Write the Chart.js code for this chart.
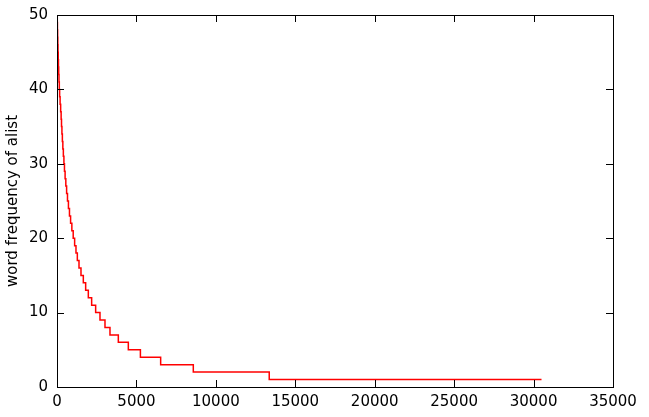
<!DOCTYPE html>
<html>
<head>
<meta charset="utf-8">
<script src="https://cdn.jsdelivr.net/npm/chart.js@4"></script>
<style>
  html, body { margin: 0; padding: 0; background: #fff; }
  #wrap { width: 649px; height: 417px; }
</style>
</head>
<body>
<div id="wrap"><canvas id="freqCanvas" width="649" height="417"></canvas></div>
<script>
/* word frequency levels (descending) and the last rank that has each level */
const freqLevels = [50, 49, 48, 47, 46, 45, 44, 43, 42, 41, 40, 39, 38, 37, 36, 35, 34, 33, 32, 31,
  30, 29, 28, 27, 26, 25, 24, 23, 22, 21, 20, 19, 18, 17, 16, 15, 14, 13, 12, 11,
  10, 9, 8, 7, 6, 5, 4, 3, 2, 1];
const lastRank = [18, 28, 40, 52, 64, 78, 92, 108, 125, 145, 165, 195, 230, 260, 284, 310, 338, 368, 400, 435,
  470, 510, 555, 605, 660, 720, 785, 855, 935, 1020, 1110, 1195, 1280, 1385, 1510, 1657, 1804, 1972, 2181, 2433,
  2706, 3021, 3335, 3860, 4490, 5250, 6525, 8580, 13360, 30500];

const xTicks = [0, 5000, 10000, 15000, 20000, 25000, 30000, 35000];
const yTicks = [0, 10, 20, 30, 40, 50];

const freqCanvas = document.getElementById("freqCanvas");

// points for the step line: each level runs up to its last rank
let points = [{ x: 0, y: freqLevels[0] }];
for (let i = 0; i < freqLevels.length; i++) {
  points.push({ x: lastRank[i], y: freqLevels[i] });
}

// matplotlib-style frame with inward ticks on all four sides
const frameTicks = {
  id: 'frameTicks',
  afterDraw(chart) {
    const ctx = chart.ctx;
    const a = chart.chartArea;
    const xs = chart.scales.x;
    const ys = chart.scales.y;
    const len = 7;
    ctx.save();
    ctx.strokeStyle = '#000';
    ctx.lineWidth = 1;
    ctx.beginPath();
    xTicks.forEach(v => {
      const px = Math.round(xs.getPixelForValue(v)) + 0.5;
      ctx.moveTo(px, a.bottom); ctx.lineTo(px, a.bottom - len);
      ctx.moveTo(px, a.top); ctx.lineTo(px, a.top + len);
    });
    yTicks.forEach(v => {
      const py = Math.round(ys.getPixelForValue(v)) + 0.5;
      ctx.moveTo(a.left, py); ctx.lineTo(a.left + len, py);
      ctx.moveTo(a.right, py); ctx.lineTo(a.right - len, py);
    });
    ctx.stroke();
    ctx.strokeRect(Math.round(a.left) + 0.5, Math.round(a.top) + 0.5,
      Math.round(a.right - a.left), Math.round(a.bottom - a.top));
    ctx.restore();
  }
};

let freqChart = new Chart(freqCanvas, {
  type: 'line',
  data: {
    datasets: [{
      data: points,
      borderColor: '#ff0000',
      borderWidth: 1.5,
      pointRadius: 0,
      fill: false,
      stepped: 'after'
    }]
  },
  options: {
    responsive: false,
    animation: false,
    layout: { padding: { top: 15, right: 36, left: 0, bottom: 0 } },
    scales: {
      x: {
        type: 'linear',
        min: 0,
        max: 35000,
        afterBuildTicks: s => { s.ticks = xTicks.map(v => ({ value: v })); },
        afterFit: s => { s.height = 30; s.paddingLeft = 0; s.paddingRight = 0; },
        grid: { display: false, drawTicks: false },
        border: { display: false },
        ticks: {
          padding: 6,
          maxRotation: 0,
          color: '#000',
          font: { family: 'DejaVu Sans', size: 15 },
          callback: v => String(v)
        }
      },
      y: {
        min: 0,
        max: 50,
        afterBuildTicks: s => { s.ticks = yTicks.map(v => ({ value: v })); },
        afterFit: s => { s.width = 57; s.paddingTop = 0; s.paddingBottom = 0; },
        grid: { display: false, drawTicks: false },
        border: { display: false },
        ticks: {
          padding: 9,
          color: '#000',
          font: { family: 'DejaVu Sans', size: 15 },
          callback: v => String(v)
        },
        title: {
          display: true,
          text: 'word frequency of alist',
          color: '#000',
          font: { family: 'DejaVu Sans', size: 15 },
          padding: { top: 4, bottom: 0 }
        }
      }
    },
    plugins: {
      legend: { display: false },
      tooltip: { enabled: false }
    }
  },
  plugins: [frameTicks]
});
</script>
</body>
</html>
